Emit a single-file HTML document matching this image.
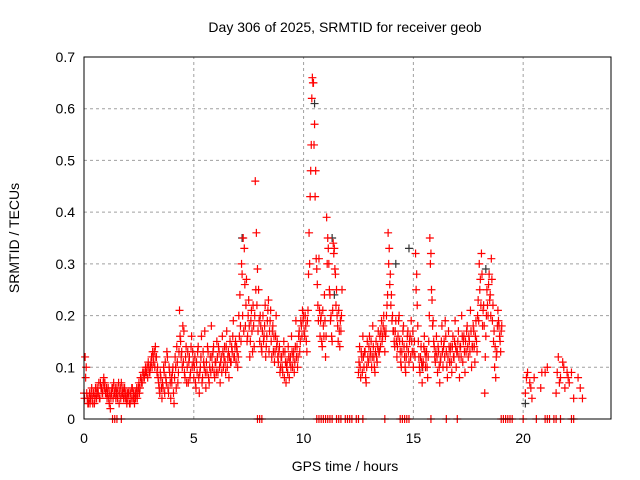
<!DOCTYPE html>
<html><head><meta charset="utf-8"><style>
html,body{margin:0;padding:0;background:#fff;}
svg{display:block;font-family:"Liberation Sans",sans-serif;}
</style></head><body>
<svg id="chart" width="640" height="480">
<rect width="640" height="480" fill="#fff"/>
<g id="grid"></g>
<g id="ticks"></g>
<g id="marks"></g>
<rect x="84" y="57" width="527" height="362" fill="none" stroke="#000" stroke-width="1"/>
<text x="345" y="32" text-anchor="middle" font-size="14">Day 306 of 2025, SRMTID for receiver geob</text>
<text x="345" y="471" text-anchor="middle" font-size="14">GPS time / hours</text>
<text transform="translate(19,238) rotate(-90)" text-anchor="middle" font-size="14">SRMTID / TECUs</text>
</svg>
<script>
const xTicks = [0,5,10,15,20];
const yTicks = [0,0.1,0.2,0.3,0.4,0.5,0.6,0.7];
const stepHours = 0.05;
const mainValues = [
0.05,0.12,0.10,0.04,0.03,0.05,0.04,0.06,0.03,0.05,0.04,0.05,0.06,0.05,0.04,0.07,0.06,0.05,0.08,0.07,
0.05,0.04,0.06,0.03,0.02,0.05,0.06,0.07,0.05,0.04,0.06,0.05,0.03,0.06,0.07,0.05,0.04,0.06,0.05,0.03,
0.04,0.05,0.03,0.04,0.06,0.05,0.03,0.04,0.06,0.05,0.07,0.06,0.08,0.07,0.09,0.08,0.10,0.09,0.08,0.10,
0.09,0.11,0.10,0.12,0.13,0.14,0.12,0.10,0.07,0.05,0.08,0.04,0.06,0.09,0.11,0.07,0.12,0.05,0.09,0.04,
0.07,0.10,0.03,0.12,0.06,0.11,0.09,0.21,0.15,0.13,0.18,0.17,0.08,0.14,0.10,0.07,0.12,0.09,0.16,0.13,
0.08,0.12,0.06,0.09,0.14,0.05,0.10,0.16,0.08,0.11,0.17,0.06,0.09,0.13,0.07,0.12,0.18,0.10,0.14,0.08,
0.11,0.15,0.09,0.13,0.07,0.12,0.16,0.10,0.14,0.09,0.17,0.12,0.08,0.15,0.11,0.13,0.19,0.12,0.15,0.14,
0.10,0.20,0.24,0.15,0.28,0.35,0.33,0.18,0.27,0.16,0.23,0.12,0.19,0.17,0.22,0.14,0.46,0.36,0.29,0.25,
0.15,0.18,0.13,0.20,0.16,0.22,0.14,0.19,0.23,0.17,0.21,0.12,0.18,0.16,0.13,0.20,0.15,0.11,0.14,0.10,
0.12,0.09,0.15,0.13,0.07,0.11,0.14,0.08,0.12,0.16,0.10,0.13,0.11,0.19,0.14,0.12,0.17,0.15,0.18,0.21,
0.20,0.16,0.18,0.13,0.21,0.36,0.43,0.53,0.66,0.65,0.57,0.48,0.29,0.22,0.31,0.16,0.20,0.14,0.18,0.24,
0.12,0.39,0.35,0.30,0.24,0.20,0.15,0.34,0.33,0.28,0.25,0.18,0.21,0.14,0.17,0.25,null,null,null,null,
null,null,null,null,null,null,null,null,null,null,0.09,0.14,0.08,0.12,0.16,0.10,0.13,0.07,0.15,0.11,
0.16,0.13,0.10,0.18,0.12,0.09,0.15,0.11,0.17,0.13,0.14,0.19,0.16,0.20,0.13,0.17,0.22,0.36,0.33,0.28,
0.24,0.20,0.17,0.14,0.19,0.12,0.16,0.20,0.13,0.10,0.15,0.18,0.12,0.09,0.14,0.17,0.11,0.16,0.19,0.13,
0.10,0.15,0.32,0.28,0.18,0.12,0.09,0.14,0.07,0.11,0.16,0.10,0.13,0.08,0.15,0.35,0.32,0.23,0.19,0.14,
0.11,0.16,0.09,0.13,0.07,0.12,0.18,0.10,0.15,0.19,0.13,0.08,0.17,0.11,0.14,0.09,0.16,0.12,0.19,0.10,
0.13,0.17,0.08,0.14,0.20,0.11,0.16,0.09,0.13,0.18,0.12,0.15,0.21,0.10,0.14,0.17,0.11,0.19,0.13,0.23,
0.30,0.27,0.32,0.18,0.22,0.05,0.16,0.25,0.20,0.28,0.24,0.31,0.19,0.15,0.10,0.08,0.13,0.21,0.18,0.15,
0.17];
const secondValues = [
0.04,0.08,0.05,0.03,0.04,0.03,0.05,0.04,0.05,0.03,0.06,0.04,0.05,0.07,0.04,0.06,0.05,0.07,0.06,0.05,
0.06,0.05,0.04,0.05,0.04,0.06,0.04,0.05,0.06,0.05,0.04,0.07,0.05,0.04,0.05,0.06,0.05,0.04,0.04,0.05,
0.05,0.03,0.05,0.06,0.04,0.04,0.05,0.05,0.04,0.06,0.05,0.08,0.07,0.09,0.08,0.09,0.09,0.10,0.11,0.09,
0.10,0.12,0.13,0.11,0.10,0.12,0.09,0.08,0.06,0.09,0.06,0.07,0.10,0.05,0.08,0.13,0.06,0.10,0.07,0.08,
0.09,0.05,0.08,0.10,0.14,0.07,0.13,0.16,0.12,0.10,0.11,0.09,0.12,0.07,0.13,0.11,0.08,0.14,0.10,0.11,
0.10,0.07,0.11,0.13,0.08,0.09,0.12,0.07,0.13,0.10,0.09,0.11,0.14,0.08,0.10,0.09,0.12,0.13,0.09,0.11,
0.09,0.12,0.14,0.10,0.11,0.09,0.13,0.12,0.11,0.14,0.10,0.13,0.12,0.11,0.14,0.16,0.12,0.14,0.11,0.13,
0.12,0.16,0.18,0.30,0.20,0.17,0.26,0.22,0.15,0.20,0.18,0.15,0.21,0.13,0.18,0.20,0.25,0.22,0.17,0.19,
0.20,0.14,0.17,0.15,0.18,0.12,0.16,0.21,0.13,0.19,0.15,0.17,0.13,0.11,0.16,0.14,0.12,0.13,0.09,0.12,
0.10,0.13,0.08,0.11,0.10,0.09,0.12,0.11,0.10,0.13,0.12,0.09,0.14,0.12,0.10,0.16,0.13,0.19,0.16,0.19,
0.17,0.20,0.15,0.19,0.28,0.30,0.48,0.62,0.65,0.53,0.43,0.31,0.26,0.19,0.21,0.19,0.15,0.21,0.16,0.19,
0.16,0.30,0.33,0.25,0.19,0.16,0.21,0.32,0.29,0.22,0.20,0.15,0.17,0.19,0.20,null,null,null,null,null,
null,null,null,null,null,null,null,null,null,null,0.11,0.10,0.13,0.09,0.12,0.13,0.08,0.10,0.12,0.14,
0.12,0.15,0.12,0.14,0.10,0.13,0.12,0.14,0.13,0.16,0.17,0.15,0.18,0.17,0.16,0.20,0.24,0.30,0.26,0.22,
0.19,0.17,0.15,0.17,0.15,0.14,0.19,0.15,0.11,0.13,0.17,0.14,0.10,0.12,0.16,0.13,0.15,0.12,0.15,0.17,
0.13,0.12,0.25,0.22,0.15,0.10,0.12,0.11,0.10,0.14,0.13,0.12,0.10,0.12,0.20,0.30,0.25,0.18,0.15,0.12,
0.13,0.12,0.14,0.10,0.11,0.15,0.13,0.14,0.12,0.16,0.10,0.12,0.14,0.13,0.11,0.14,0.12,0.15,0.14,0.13,
0.15,0.12,0.14,0.12,0.16,0.15,0.13,0.15,0.17,0.14,0.16,0.13,0.17,0.14,0.18,0.14,0.16,0.15,0.20,0.19,
0.25,0.22,0.28,0.21,0.18,0.12,0.20,0.22,0.26,0.23,0.20,0.27,0.22,0.17,0.14,0.12,0.18,0.19,0.16,0.13,
0.18];
const lateTimes = [20.1,20.15,20.2,20.3,20.35,20.4,20.5,20.8,20.85,21.0,21.1,21.5,21.55,21.6,21.65,21.7,21.8,21.85,21.9,22.0,22.05,22.1,22.2,22.3,22.5,22.6,22.7];
const lateValues = [0.05,0.08,0.09,0.07,0.06,0.04,0.08,0.06,0.09,0.09,0.10,0.05,0.09,0.12,0.07,0.08,0.11,0.10,0.06,0.09,0.08,0.07,0.09,0.04,0.08,0.06,0.04];
const zeroTimes = [1.3,1.4,1.5,1.7,7.9,8.0,8.1,10.6,10.7,10.8,10.9,11.0,11.1,11.2,11.3,11.5,11.6,11.7,11.9,12.0,12.1,12.2,12.4,12.5,12.7,13.7,14.4,14.5,14.6,14.7,14.8,15.8,16.5,17.0,19.0,19.1,19.2,19.3,19.4,19.5,20.0,20.6,21.0,21.1,21.2,21.4,21.5,21.7,22.2,22.3];
const blackTimes = [7.2,10.5,11.3,11.4,14.2,14.8,15.4,18.3,20.1];
const blackValues = [0.35,0.61,0.35,0.24,0.30,0.33,0.10,0.29,0.03];

const NS='http://www.w3.org/2000/svg';
const X0=84,X1=611,Y0=419,Y1=57;
function xs(t){return X0+(t/24)*(X1-X0);}
function ys(v){return Y0-(v/0.7)*(Y0-Y1);}
function el(tag,attrs,parent){const e=document.createElementNS(NS,tag);for(const k in attrs)e.setAttribute(k,attrs[k]);parent.appendChild(e);return e;}
const grid=document.getElementById('grid'),ticks=document.getElementById('ticks'),marks=document.getElementById('marks');
xTicks.forEach(t=>{
  const x=xs(t);
  if(t>0){const g=el('line',{x1:x,y1:Y0,x2:x,y2:Y1,stroke:'#a0a0a0','stroke-dasharray':'3,3'},grid);
  
  }
  const l=el('text',{x:x,y:Y0+24,'text-anchor':'middle','font-size':'14'},ticks);
  l.textContent=t;
  
  
});
yTicks.forEach(v=>{
  const y=ys(v);
  if(v>0){const g=el('line',{x1:X0,y1:y,x2:X1,y2:y,stroke:'#a0a0a0','stroke-dasharray':'3,3'},grid);
  
  }
  const l=el('text',{x:X0-9,y:y+5,'text-anchor':'end','font-size':'14'},ticks);
  l.textContent=v===0?'0':v.toFixed(1);
  
  
});
function plus(t,v,color){
  const x=xs(t),y=ys(v);
  const p=el('path',{d:`M${x-4},${y}h8M${x},${y-4}v8`,stroke:color,'stroke-width':'1.2',fill:'none'},marks);
  
  
}
blackTimes.forEach((t,i)=>plus(t,blackValues[i],'#333'));
mainValues.forEach((v,i)=>{if(v!==null)plus(i*stepHours,v,'#f00');});
secondValues.forEach((v,i)=>{if(v!==null)plus(i*stepHours+stepHours/2,v,'#f00');});
lateTimes.forEach((t,i)=>plus(t,lateValues[i],'#f00'));
zeroTimes.forEach(t=>plus(t,0,'#f00'));
</script>
</body></html>
